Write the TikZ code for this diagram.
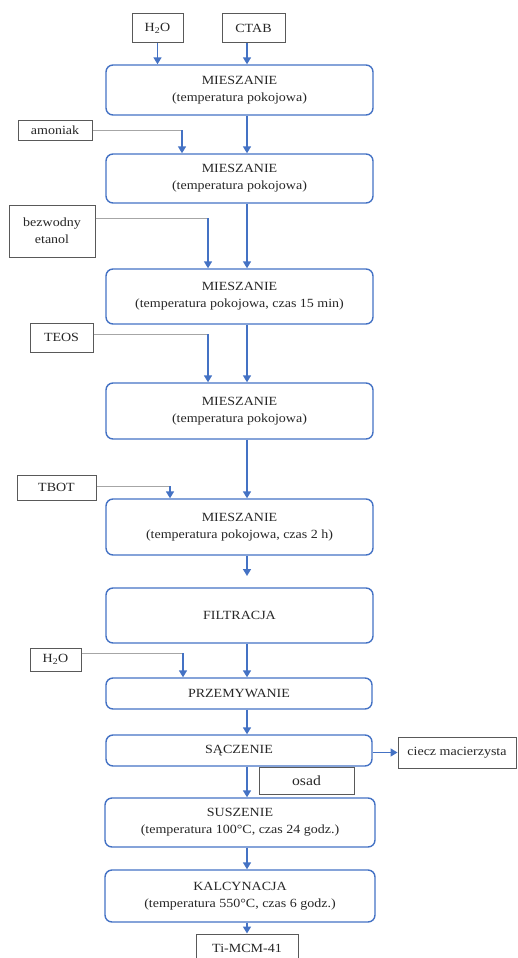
\documentclass[tikz,border=0pt]{standalone}
\usepackage{fontspec}
\setmainfont{Liberation Serif}[FakeStretch=1.12]
\usetikzlibrary{arrows.meta}
\definecolor{stepblue}{HTML}{4472C4}
\definecolor{feedgray}{HTML}{595959}
\definecolor{linegray}{HTML}{A6A6A6}
\definecolor{txt}{HTML}{262626}
\begin{document}
\begin{tikzpicture}[x=1pt,y=-1pt,
  every node/.style={font=\fontsize{12.5}{17}\selectfont, text=txt, align=center, inner sep=0pt},
  proc/.style={draw=stepblue, line width=1.4pt, rounded corners=7pt},
  feed/.style={draw=feedgray, line width=1pt, fill=white},
  flow/.style={draw=stepblue, line width=1.6pt, -{Triangle[width=8pt,length=7pt]}},
  supply/.style={draw=linegray, line width=0.9pt},
]
\useasboundingbox (0,0) rectangle (517,958);
\clip (0,0) rectangle (517,958);

% main axis of the process
\coordinate (ax) at (247,0);

% process steps
\node[proc, minimum width=267pt, minimum height=50pt] (m1) at (239.5,90) {MIESZANIE\\(temperatura pokojowa)};
\node[proc, minimum width=267pt, minimum height=49pt] (m2) at (239.5,178.5) {MIESZANIE\\(temperatura pokojowa)};
\node[proc, minimum width=267pt, minimum height=55pt] (m3) at (239.5,296.5) {MIESZANIE\\(temperatura pokojowa, czas 15 min)};
\node[proc, minimum width=267pt, minimum height=56pt] (m4) at (239.5,411) {MIESZANIE\\(temperatura pokojowa)};
\node[proc, minimum width=267pt, minimum height=56pt] (m5) at (239.5,527) {MIESZANIE\\(temperatura pokojowa, czas 2 h)};
\node[proc, minimum width=267pt, minimum height=55pt] (filt) at (239.5,615.5) {FILTRACJA};
\node[proc, minimum width=266pt, minimum height=31pt] (prz) at (239,693.5) {PRZEMYWANIE};
\node[proc, minimum width=266pt, minimum height=31pt] (sacz) at (239,750.5) {SĄCZENIE};
\node[proc, minimum width=270pt, minimum height=49pt] (susz) at (240,822.5) {SUSZENIE\\(temperatura 100°C, czas 24 godz.)};
\node[proc, minimum width=270pt, minimum height=52pt] (kalc) at (240,896) {KALCYNACJA\\(temperatura 550°C, czas 6 godz.)};

% feeds and products
\node[feed, minimum width=51pt, minimum height=29pt] (h2oA) at (157.5,28.5) {H\textsubscript{2}O};
\node[feed, minimum width=63pt, minimum height=29pt] (ctab) at (253.5,28.5) {CTAB};
\node[feed, minimum width=74pt, minimum height=20pt] (amon) at (55,130.5) {amoniak};
\node[feed, minimum width=86pt, minimum height=52pt] (etan) at (52,231) {bezwodny\\etanol};
\node[feed, minimum width=63pt, minimum height=29pt] (teos) at (61.5,337.5) {TEOS};
\node[feed, minimum width=79pt, minimum height=25pt] (tbot) at (56.5,487.5) {TBOT};
\node[feed, minimum width=51pt, minimum height=23pt] (h2oB) at (55.5,659.5) {H\textsubscript{2}O};
\node[feed, minimum width=118pt, minimum height=31pt] (ciecz) at (457,752.5) {ciecz macierzysta};
\node[feed, minimum width=95pt, minimum height=27pt, font=\fontsize{14}{17}\selectfont] (osad) at (306.5,780.5) {osad};
\node[feed, minimum width=102pt, minimum height=28pt] (ti) at (247,948) {Ti-MCM-41};

% corners of the side feed lines
\coordinate (c1) at (182,130);
\coordinate (c2) at (208,218);
\coordinate (c3) at (208,334);
\coordinate (c4) at (170,486);
\coordinate (c5) at (183,653);
\coordinate (loose) at (247,576);

% main flow
\draw[flow] (h2oA.south) -- (h2oA.south |- m1.north);
\draw[flow] (ctab.south -| ax) -- (m1.north -| ax);
\draw[flow] (m1.south -| ax) -- (m2.north -| ax);
\draw[flow] (m2.south -| ax) -- (m3.north -| ax);
\draw[flow] (m3.south -| ax) -- (m4.north -| ax);
\draw[flow] (m4.south -| ax) -- (m5.north -| ax);
\draw[flow] (m5.south -| ax) -- (loose);
\draw[flow] (filt.south -| ax) -- (prz.north -| ax);
\draw[flow] (prz.south -| ax) -- (sacz.north -| ax);
\draw[flow] (sacz.south -| ax) -- (susz.north -| ax);
\draw[flow] (susz.south -| ax) -- (kalc.north -| ax);
\draw[flow] (kalc.south -| ax) -- (ti.north);
\draw[flow] (sacz.east |- ciecz) -- (ciecz.west);

% side feeds
\draw[supply] (amon.east |- c1) -- (c1);
\draw[flow] (c1) -- (c1 |- m2.north);
\draw[supply] (etan.east |- c2) -- (c2);
\draw[flow] (c2) -- (c2 |- m3.north);
\draw[supply] (teos.east |- c3) -- (c3);
\draw[flow] (c3) -- (c3 |- m4.north);
\draw[supply] (tbot.east |- c4) -- (c4);
\draw[flow] (c4) -- (c4 |- m5.north);
\draw[supply] (h2oB.east |- c5) -- (c5);
\draw[flow] (c5) -- (c5 |- prz.north);
\end{tikzpicture}
\end{document}
